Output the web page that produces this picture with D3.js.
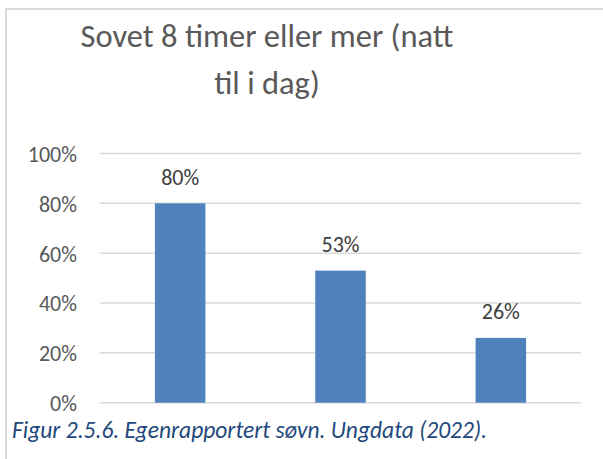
<!DOCTYPE html>
<html>
<head>
<meta charset="utf-8">
<script src="https://cdn.jsdelivr.net/npm/d3@7"></script>
<style>
  html, body { margin: 0; padding: 0; background: #fff; }
  svg { display: block; font-family: Carlito, Calibri, Lato, sans-serif; }
</style>
</head>
<body>
<div id="chart"></div>
<script>
// Ungdata (2022): slept 8 hours or more last night
const categories = ["A", "B", "C"]
const values = [0.80, 0.53, 0.26]
const yTicks = [0, 0.2, 0.4, 0.6, 0.8, 1.0]
const titleLines = ["Sovet 8 timer eller mer (natt", "til i dag)"]
const caption = "Figur 2.5.6. Egenrapportert søvn. Ungdata (2022)."

const W = 603, H = 459
const plot = { left: 100, right: 581, top: 153.5, bottom: 402.7 }

const svg = d3.select("#chart").append("svg")
  .attr("width", W)
  .attr("height", H)

// chart frame (only top and left edges visible in the crop)
svg.append("path")
  .attr("d", `M6,${H} V9 H${W}`)
  .attr("fill", "none")
  .attr("stroke", "#d9d9d9")
  .attr("stroke-width", 2)

// Title
svg.append("text")
  .attr("text-anchor", "middle")
  .attr("fill", "#595959")
  .attr("font-size", "32.5px")
  .selectAll("tspan")
  .data(titleLines)
  .enter()
  .append("tspan")
  .attr("x", 267)
  .attr("y", (d, i) => 47 + i * 47)
  .text(d => d)

const x = d3.scaleBand()
  .domain(categories)
  .range([plot.left, plot.right])
  .paddingInner(0.685)
  .paddingOuter(0.685 / 2)

const y = d3.scaleLinear()
  .domain([0, 1])
  .range([plot.bottom, plot.top])

// Gridlines
svg.append("g")
  .selectAll("line")
  .data(yTicks)
  .enter()
  .append("line")
  .attr("x1", plot.left)
  .attr("x2", plot.right)
  .attr("y1", d => y(d))
  .attr("y2", d => y(d))
  .attr("stroke", "#d9d9d9")
  .attr("stroke-width", 1.5)

// Y axis labels
const yAxis = svg.append("g")
  .attr("transform", `translate(${plot.left},0)`)
  .call(d3.axisLeft(y).tickValues(yTicks).tickFormat(d3.format(".0%")).tickSize(0).tickPadding(23))
yAxis.select(".domain").remove()
yAxis.selectAll("text")
  .attr("fill", "#595959")
  .attr("font-size", "22px")
  .attr("font-family", "Carlito, Calibri, Lato, sans-serif")
  .attr("dy", "0.36em")

// Bars
svg.selectAll(".bar")
  .data(values)
  .enter()
  .append("rect")
  .attr("class", "bar")
  .attr("x", (d, i) => x(categories[i]))
  .attr("y", d => y(d))
  .attr("width", x.bandwidth())
  .attr("height", d => plot.bottom - y(d))
  .attr("fill", "#4f81bd")

// Value labels
svg.selectAll(".label")
  .data(values)
  .enter()
  .append("text")
  .attr("class", "label")
  .attr("x", (d, i) => x(categories[i]) + x.bandwidth() / 2)
  .attr("y", d => y(d) - 18.5)
  .attr("text-anchor", "middle")
  .attr("fill", "#404040")
  .attr("font-size", "22px")
  .text(d => d3.format(".0%")(d))

// Caption
svg.append("rect")
  .attr("x", 8).attr("y", 416).attr("width", W).attr("height", 34)
  .attr("fill", "#fff")
svg.append("text")
  .attr("x", 12)
  .attr("y", 438)
  .attr("fill", "#1f497d")
  .attr("font-style", "italic")
  .attr("font-size", "23.5px")
  .text(caption)
</script>
</body>
</html>
